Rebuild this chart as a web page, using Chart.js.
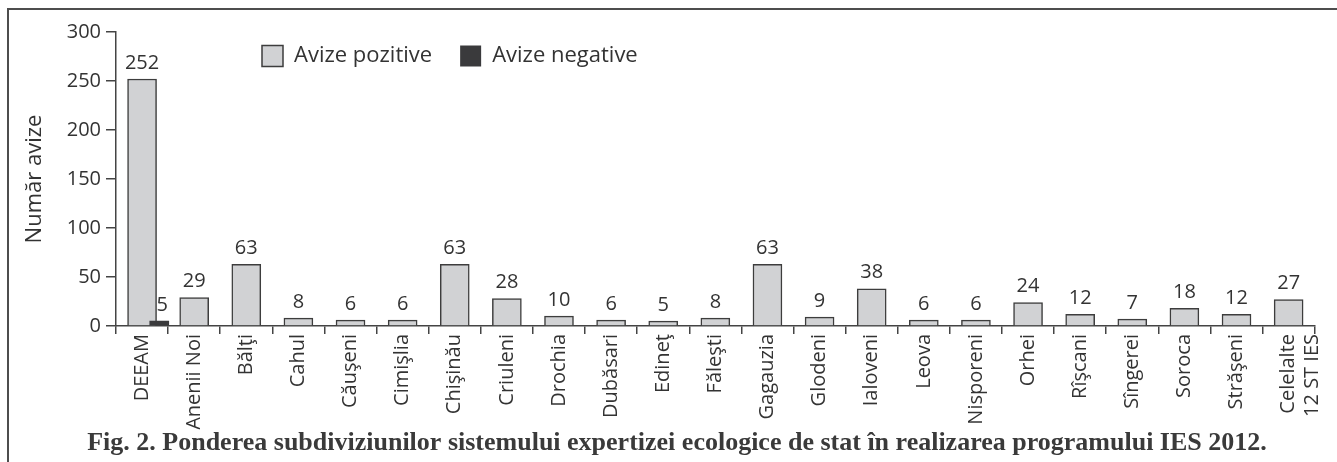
<!DOCTYPE html>
<html>
<head>
<meta charset="utf-8">
<script src="https://cdn.jsdelivr.net/npm/chart.js@4"></script>
<style>
  body { margin: 0; background: #fff; overflow: hidden; }
  #wrap { position: relative; width: 1337px; height: 462px; }
  #frame { position: absolute; left: 7px; top: 8px; right: 0; bottom: 0;
           border-top: 2px solid #4d4d4d; border-left: 2px solid #4d4d4d; }
  canvas { position: absolute; left: 0; top: 0; }
</style>
</head>
<body>
<div id="wrap"><div id="frame"></div><canvas id="chartIES" width="1337" height="462"></canvas></div>
<script>
// Date: subdiviziuni si numar de avize
const categories = ['DEEAM', 'Anenii Noi', 'Bălţi', 'Cahul', 'Căuşeni', 'Cimişlia', 'Chişinău',
  'Criuleni', 'Drochia', 'Dubăsari', 'Edineţ', 'Făleşti', 'Gagauzia', 'Glodeni', 'Ialoveni',
  'Leova', 'Nisporeni', 'Orhei', 'Rîşcani', 'Sîngerei', 'Soroca', 'Străşeni', ['Celelalte', '12 ST IES']];
const avizePozitive = [252, 29, 63, 8, 6, 6, 63, 28, 10, 6, 5, 8, 63, 9, 38, 6, 6, 24, 12, 7, 18, 12, 27];
const avizeNegative = [5]; // numai DEEAM
const yTicks = [0, 50, 100, 150, 200, 250, 300];

const FONT = 'Open Sans';
const TXT = '#333333';
const AXIS = '#444444';

//Plugin: valorile deasupra barelor
const valueLabels = {
  id: 'valueLabels',
  afterDatasetsDraw(chart) {
    const ctx = chart.ctx;
    ctx.save();
    ctx.font = '20px "' + FONT + '"';
    ctx.fillStyle = TXT;
    ctx.textAlign = 'center';
    ctx.textBaseline = 'bottom';
    chart.data.datasets.forEach((ds, di) => {
      const meta = chart.getDatasetMeta(di);
      meta.data.forEach((bar, i) => {
        const v = meta._parsed[i].y;
        ctx.fillText(v, bar.x + (di == 1 ? 3 : 0), bar.y - 6);
      });
    });
    ctx.restore();
  }
};

//Plugin: legenda mutata in interiorul graficului, titlul putin spre dreapta
const moveBoxes = {
  id: 'moveBoxes',
  afterLayout(chart) {
    const lg = chart.legend;
    const dx = 234 - lg.left;
    lg.left += dx;
    lg.right += dx;
    lg.top = 17;
    lg.bottom = lg.top + lg.height;
    const tb = chart.titleBlock;
    tb.left += 17;
    tb.right += 17;
  }
};

const chartIES = new Chart(document.getElementById('chartIES'), {
  type: 'bar',
  data: {
    labels: categories,
    datasets: [{
      label: 'Avize pozitive',
      data: avizePozitive,
      grouped: false,
      backgroundColor: '#d1d2d4',
      borderColor: '#3d3d3d',
      borderWidth: 1.5,
      barThickness: 29,
      order: 1
    }, {
      label: 'Avize negative',
      data: avizeNegative.map((v, i) => ({ x: i, y: v })),
      xAxisID: 'x2',
      grouped: false,
      backgroundColor: '#3a3a3c',
      borderColor: '#3a3a3c',
      borderWidth: 0,
      barThickness: 19,
      order: 0
    }]
  },
  options: {
    responsive: false,
    animation: false,
    // legenda are 22 + 28 + 10 = 60px, zona graficului incepe la 32px
    layout: { padding: { left: 0, top: -28, right: 17, bottom: 0 } },
    scales: {
      x: {
        offset: true,
        grid: { drawOnChartArea: false, offset: true, tickLength: 8, color: AXIS, lineWidth: 1.5 },
        border: { color: AXIS, width: 1.5 },
        ticks: {
          autoSkip: false, minRotation: 90, maxRotation: 90, padding: 0,
          color: TXT, font: { family: FONT, size: 20 }
        },
        afterFit(scale) { scale.height = 103.4; }
      },
      x2: {
        type: 'linear',
        display: false,
        offset: false,
        min: -0.83,
        max: 22.17
      },
      y: {
        min: 0,
        max: 300,
        afterBuildTicks(scale) { scale.ticks = yTicks.map(v => ({ value: v })); },
        grid: { drawOnChartArea: false, tickLength: 10, color: AXIS, lineWidth: 1.5 },
        border: { color: AXIS, width: 1.5 },
        ticks: { padding: 5, color: TXT, font: { family: FONT, size: 20 } },
        title: {
          display: true, text: 'Număr avize', color: TXT,
          font: { family: FONT, size: 22 }, padding: { top: 22, bottom: 0 }
        },
        afterFit(scale) { scale.width = 116; }
      }
    },
    plugins: {
      legend: {
        position: 'top',
        align: 'start',
        labels: {
          boxWidth: 21, boxHeight: 21, padding: 28,
          color: TXT, font: { family: FONT, size: 22 },
          sort: (a, b) => a.datasetIndex - b.datasetIndex
        }
      },
      title: {
        display: true,
        position: 'bottom',
        text: 'Fig. 2. Ponderea subdiviziunilor sistemului expertizei ecologice de stat în realizarea programului IES 2012.',
        color: '#3a3a3a',
        font: { family: 'Liberation Serif', weight: 'bold', size: 26, lineHeight: 1.1 },
        padding: { top: 0, bottom: 4 }
      },
      tooltip: { enabled: false }
    }
  },
  plugins: [valueLabels, moveBoxes]
});
</script>
</body>
</html>
